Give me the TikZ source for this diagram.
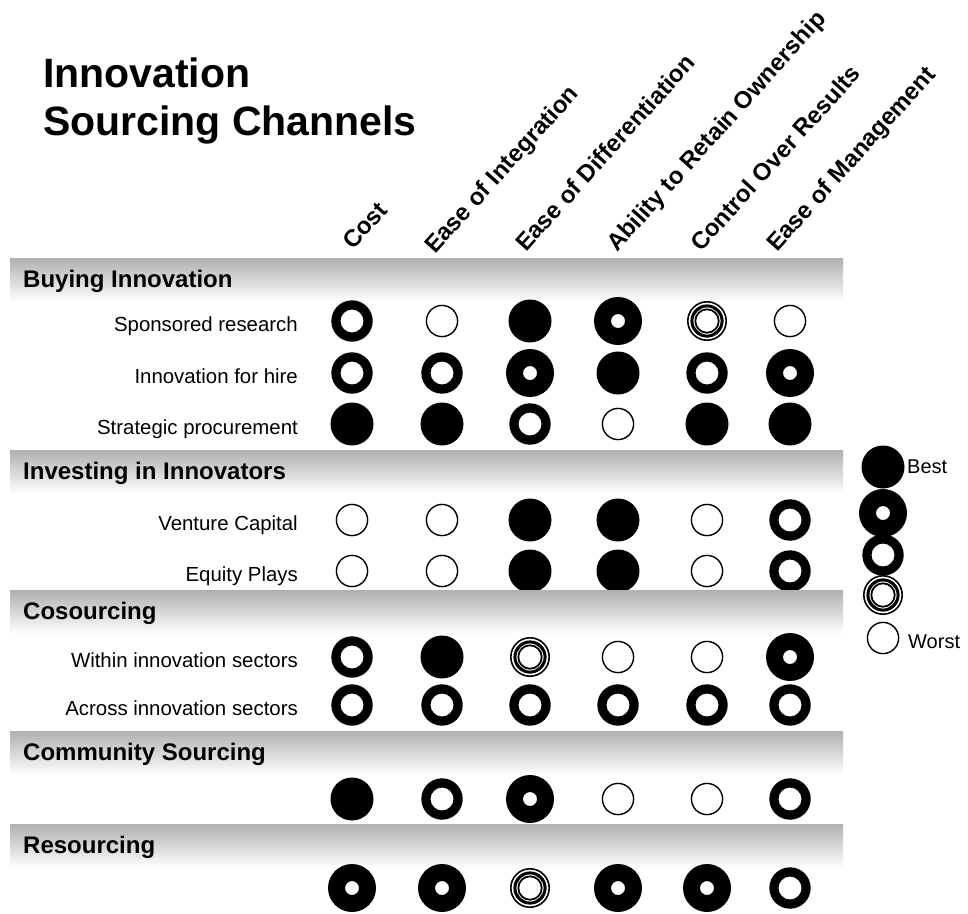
\documentclass[tikz,border=0pt]{standalone}
\usepackage{fontspec}
\setmainfont{Liberation Sans}
\usetikzlibrary{positioning}

\tikzset{
  band/.style={top color=black!31, bottom color=white, draw=none},
  group/.style={font=\fontsize{24}{28}\selectfont\bfseries, anchor=base west, inner sep=0pt},
  channel/.style={font=\fontsize{20.4}{24}\selectfont, anchor=base east, inner sep=0pt},
  criterion/.style={font=\fontsize{24}{28}\selectfont\bfseries, anchor=base west, rotate=48, inner sep=0pt},
  legendtext/.style={font=\fontsize{20}{24}\selectfont, anchor=base west, inner sep=0pt},
  heading/.style={font=\fontsize{41}{48}\selectfont\bfseries, anchor=base west, inner sep=0pt},
  full/.pic={\fill (0,0) circle (21.5pt);},
  bullseye/.pic={\fill[even odd rule] (0,0) circle (24pt) circle (7pt);},
  ring/.pic={\fill[even odd rule] (0,0) circle (20.7pt) circle (11.5pt);},
  triple/.pic={\fill[even odd rule] (0,0) circle (20pt) circle (18.4pt) circle (16.6pt) circle (13.6pt) circle (12.6pt) circle (10.8pt);},
  empty/.pic={\draw[line width=1.4pt] (0,0) circle (15.6pt);}
}

% one row of ratings, one per column
\newcommand{\ratingrow}[2]{%
  \foreach \r [count=\i from 0] in {#2}{%
    \pgfmathsetmacro{\cx}{{352,442,530,618,707,790}[\i]}%
    \pic at (\cx,#1) {\r};
  }}

\begin{document}
\begin{tikzpicture}[x=1pt, y=-1pt]
        \useasboundingbox (0,0) rectangle (968,913);

        % Title
        \node[heading] (title) at (43,87) {Innovation};
        \node[heading] (title2) at ([yshift=-48pt]title.base west) {Sourcing Channels};

        % Criteria
        \node[criterion] (cost) at (353,251) {Cost};
        \node[criterion] (integration) at (435,255) {Ease of Integration};
        \node[criterion] (differentiation) at (526,253) {Ease of Differentiation};
        \node[criterion] (ownership) at (617,253) {Ability to Retain Ownership};
        \node[criterion] (control) at (701,253) {Control Over Results};
        \node[criterion] (management) at (777,253) {Ease of Management};

        % Buying Innovation
        \shade[band] (10,258) rectangle (843,302);
        \node[group] (buying) at (23,287) {Buying Innovation};
        \node[channel] (sponsored) at (298,331.5) {Sponsored research};
        \node[channel] (hire) at (298,383.5) {Innovation for hire};
        \node[channel] (procurement) at (298,434.5) {Strategic procurement};
        \ratingrow{321}{ring,empty,full,bullseye,triple,empty}
        \ratingrow{373}{ring,ring,bullseye,full,ring,bullseye}
        \ratingrow{424}{full,full,ring,empty,full,full}

        % Investing in Innovators
        \shade[band] (10,450) rectangle (843,494);
        \node[group] (investing) at (23,479) {Investing in Innovators};
        \node[channel] (venture) at (298,530.5) {Venture Capital};
        \node[channel] (equity) at (298,581.5) {Equity Plays};
        \ratingrow{520}{empty,empty,full,full,empty,ring}
        \ratingrow{571}{empty,empty,full,full,empty,ring}

        % Cosourcing
        \shade[band] (10,590) rectangle (843,634);
        \node[group] (cosourcing) at (23,619) {Cosourcing};
        \node[channel] (within) at (298,667.5) {Within innovation sectors};
        \node[channel] (across) at (298,715.5) {Across innovation sectors};
        \ratingrow{657}{ring,full,triple,empty,empty,bullseye}
        \ratingrow{705}{ring,ring,ring,ring,ring,ring}

        % Community Sourcing
        \shade[band] (10,731) rectangle (843,775);
        \node[group] (community) at (23,760) {Community Sourcing};
        \ratingrow{799}{full,ring,bullseye,empty,empty,ring}

        % Resourcing
        \shade[band] (10,824) rectangle (843,868);
        \node[group] (resourcing) at (23,853) {Resourcing};
        \ratingrow{888}{bullseye,bullseye,triple,bullseye,bullseye,ring}

        % Legend
        \pic at (883,467) {full};
        \pic at (883,513) {bullseye};
        \pic at (883,555) {ring};
        \pic at (883,595) {triple};
        \pic at (883,638) {empty};
        \node[legendtext] (best) at (907,473) {Best};
        \node[legendtext] (worst) at (908,648) {Worst};

    \end{tikzpicture}
\end{document}
